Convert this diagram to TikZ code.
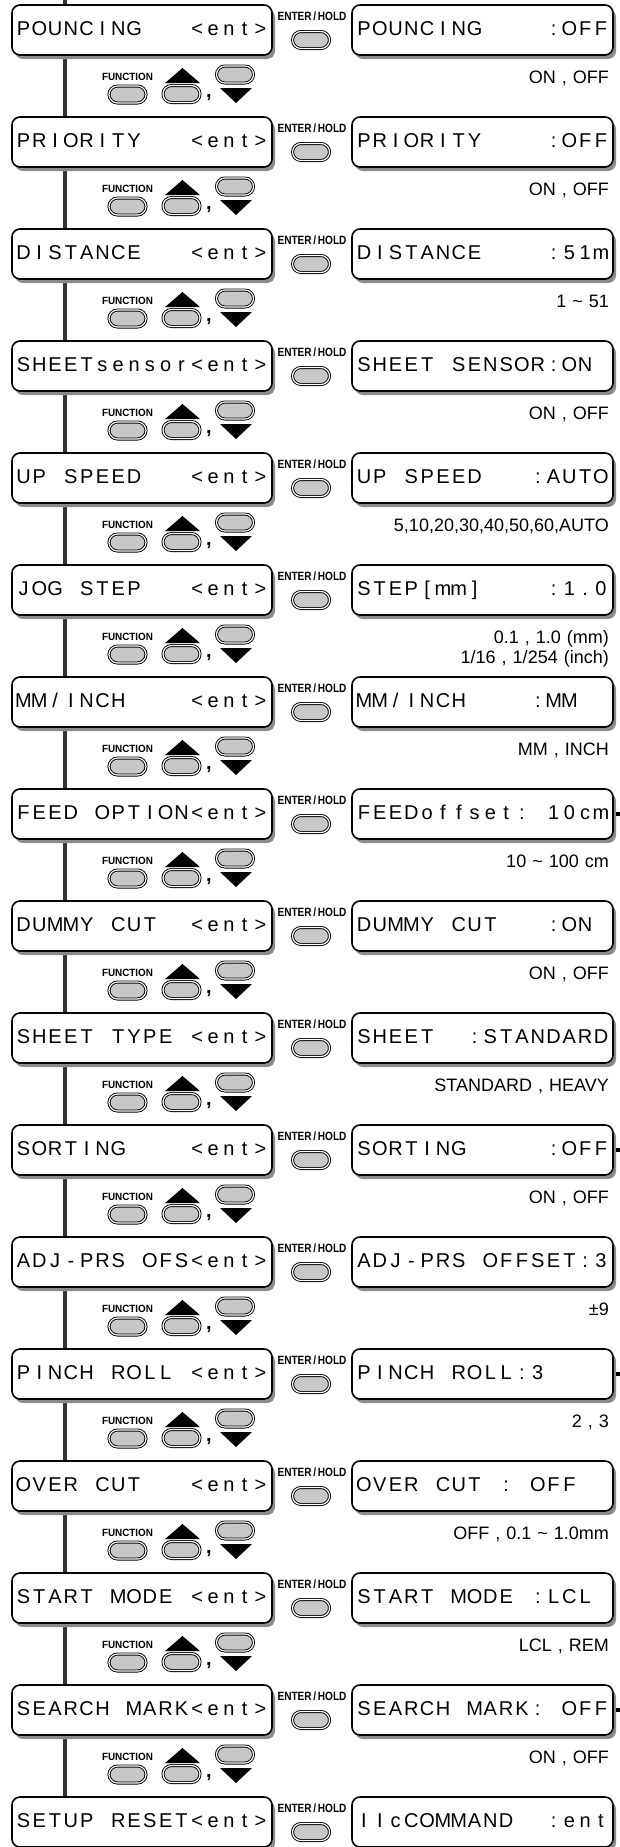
\documentclass[tikz,border=0pt]{standalone}
\usepackage{fontspec}
\setmainfont{Liberation Sans}
\usetikzlibrary{shapes.misc,shadows,backgrounds}
\newlength\lcdw \setlength\lcdw{15.8pt}
\makeatletter
\let\lcdend\relax
\def\lcd#1{\lcd@a#1\lcdend}
\def\lcd@a#1{\ifx#1\lcdend\else\makebox[\lcdw][c]{\ifx#1_\else#1\fi}\expandafter\lcd@a\fi}
\makeatother
\newcommand\rngfont{\fontsize{18}{19}\selectfont\spaceskip=6pt plus 1pt\relax}
\tikzset{
  lcdbox/.style={draw=black, line width=1.6pt, rounded corners=8pt, fill=white,
    minimum width=260pt, minimum height=50pt, inner sep=0pt,
    text height=14pt, text depth=4pt, font=\fontsize{20}{24}\selectfont,
    drop shadow={shadow xshift=3pt, shadow yshift=-4pt, fill=black!45, opacity=1}},
  vline/.style={line width=4pt, draw=black!80},
  btn/.style={rounded rectangle, draw=black, line width=0.9pt, double=white,
    double distance=1.2pt, fill=black!22, minimum width=37pt, minimum height=17pt,
    inner sep=0pt},
  flbl/.style={font=\fontsize{10.5}{11}\bfseries\selectfont, inner sep=0pt, anchor=base},
  elbl/.style={font=\fontsize{12}{12}\bfseries\selectfont, inner sep=0pt, anchor=base},
  rng/.style={font=\rngfont, inner sep=0pt, anchor=base east},
  cma/.style={font=\fontsize{20}{20}\bfseries\selectfont, inner sep=0pt, anchor=base},
}
\newcommand\mrow[4]{%
  \node[lcdbox] (L#1) at (142,{30+112*#1}) {\lcd{#2}};
  \node[lcdbox,minimum width=261pt] (R#1) at (482.5,{30+112*#1}) {\lcd{#3}};
  \node[elbl] (E#1) at (312,{20.5+112*#1}) {\scalebox{0.84}[1]{ENTER\,/\,HOLD}};
  \node[btn] (B#1) at (311,{40+112*#1}) {};
  \node[rng] (V#1) at (609,{83+112*#1}) {#4};
}
\newcommand\fgroup[1]{%
  \node[flbl] (F#1) at (127.5,{80+112*#1}) {\scalebox{0.94}[1]{FUNCTION}};
  \node[btn] (FB#1) at (127.5,{94.5+112*#1}) {};
  \fill (165,{83+112*#1}) -- (200,{83+112*#1}) -- (182.5,{68+112*#1}) -- cycle;
  \node[btn] (UB#1) at (181.5,{94+112*#1}) {};
  \node[cma] (C#1) at (209,{97.5+112*#1}) {,};
  \node[btn] (DB#1) at (235,{74.5+112*#1}) {};
  \fill (220,{88+112*#1}) -- (252,{88+112*#1}) -- (236,{103+112*#1}) -- cycle;
}
\newcommand\contdot[1]{\fill (616,{28+112*#1}) rectangle (620,{32+112*#1});}
\begin{document}
\begin{tikzpicture}[x=1pt,y=-1pt]
\useasboundingbox (0,0) rectangle (620,1847);
\mrow{0}{POUNCING___<ent>}{POUNCING____:OFF}{ON , OFF}
\mrow{1}{PRIORITY___<ent>}{PRIORITY____:OFF}{ON , OFF}
\mrow{2}{DISTANCE___<ent>}{DISTANCE____:51m}{1 \textasciitilde{} 51}
\mrow{3}{SHEETsensor<ent>}{SHEET_SENSOR:ON_}{ON , OFF}
\mrow{4}{UP_SPEED___<ent>}{UP_SPEED___:AUTO}{5,10,20,30,40,50,60,AUTO}
\mrow{5}{JOG_STEP___<ent>}{STEP[mm]____:1.0}{0.1 , 1.0 (mm)}
\node[rng] (V5b) at (609,663) {1/16 , 1/254 (inch)};
\mrow{6}{MM/INCH____<ent>}{MM/INCH____:MM__}{MM , INCH}
\mrow{7}{FEED_OPTION<ent>}{FEEDoffset:_10cm}{10 \textasciitilde{} 100 cm}
\mrow{8}{DUMMY_CUT__<ent>}{DUMMY_CUT___:ON_}{ON , OFF}
\mrow{9}{SHEET_TYPE_<ent>}{SHEET__:STANDARD}{STANDARD , HEAVY}
\mrow{10}{SORTING____<ent>}{SORTING_____:OFF}{ON , OFF}
\mrow{11}{ADJ-PRS_OFS<ent>}{ADJ-PRS_OFFSET:3}{±9}
\mrow{12}{PINCH_ROLL_<ent>}{PINCH_ROLL:3____}{2 , 3}
\mrow{13}{OVER_CUT___<ent>}{OVER_CUT_:_OFF__}{OFF , 0.1 \textasciitilde{} 1.0mm}
\mrow{14}{START_MODE_<ent>}{START_MODE_:LCL_}{LCL , REM}
\mrow{15}{SEARCH_MARK<ent>}{SEARCH_MARK:_OFF}{ON , OFF}
\mrow{16}{SETUP_RESET<ent>}{IIcCOMMAND__:ent}{}
\foreach \k in {0,...,15}{\fgroup{\k}}
\contdot{7}\contdot{10}\contdot{12}\contdot{15}
\begin{scope}[on background layer]
\coordinate (T) at (65,0);
\draw[vline] (T) -- (L0.north -| T);
\foreach \k in {0,...,15}{
  \pgfmathtruncatemacro\n{\k+1}
  \draw[vline] (L\k.south -| T) -- (L\n.north -| T);
}
\end{scope}
\end{tikzpicture}
\end{document}
